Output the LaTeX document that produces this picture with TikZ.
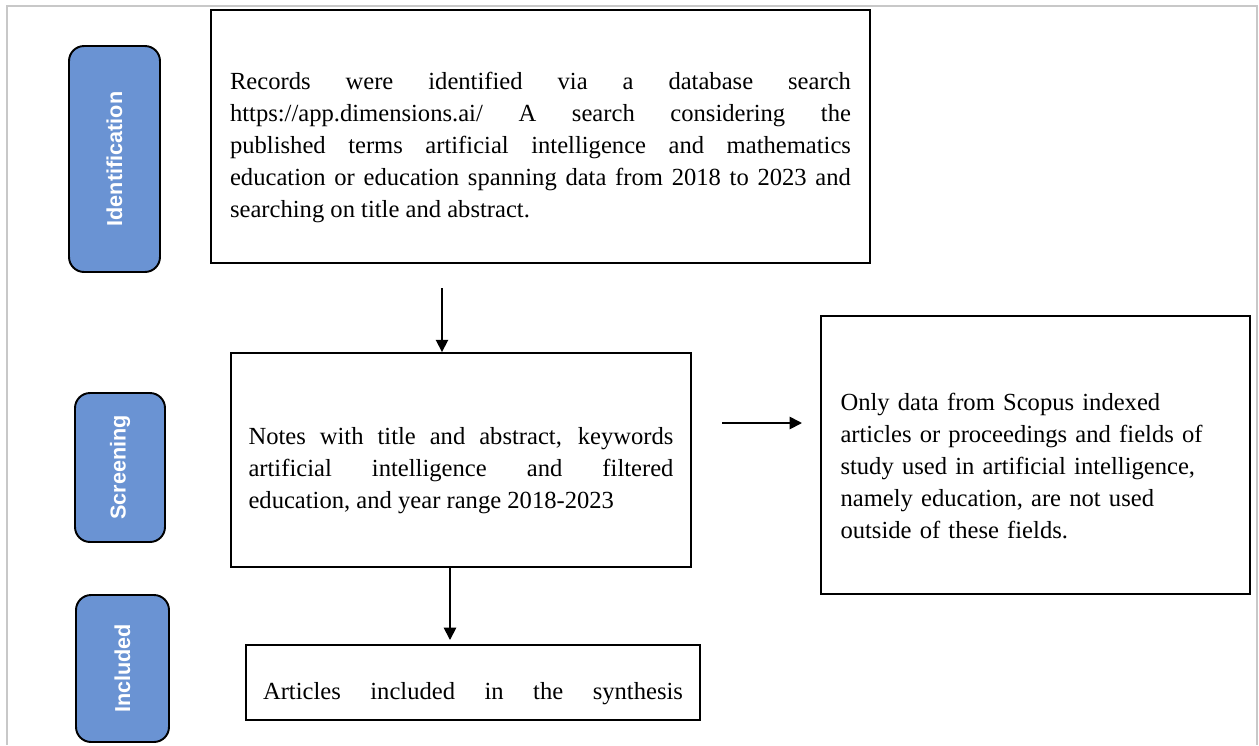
\documentclass[tikz,border=0pt]{standalone}
\usepackage{fontspec}
\setmainfont{Liberation Serif}
\setsansfont{Liberation Sans}
\usetikzlibrary{arrows.meta}
\definecolor{tabblue}{HTML}{6A93D3}
\definecolor{framegrey}{HTML}{C8C8C8}

\begin{document}
\begin{tikzpicture}[x=0.02cm, y=-0.02cm,
        box/.style={draw, line width=1.1pt, inner sep=0pt, font=\fontsize{14}{18.2}\selectfont, text height=0.78cm},
        tab/.style={draw, line width=1.1pt, fill=tabblue, rounded corners=0.3cm, inner sep=0pt,
            text=white, font=\sffamily\bfseries\fontsize{12.3}{14}\selectfont, rotate=90},
        arr/.style={-{Triangle[length=7pt,width=7pt]}, line width=1pt}]
            \useasboundingbox (0,0) rectangle (1259,745);
            \draw[framegrey, line width=1.2pt] (7,745) -- (7,6) -- (1257,6) -- (1257,745);

            \node[tab, minimum width=4.52cm, minimum height=1.82cm] (identification) at (114.5,159) {Identification};
            \node[tab, minimum width=2.98cm, minimum height=1.8cm] (screening) at (120,467.5) {Screening};
            \node[tab, minimum width=2.94cm, minimum height=1.86cm] (included) at (122.5,668.5) {Included};

            \node[box, minimum width=13.18cm, minimum height=5.06cm, text width=12.42cm, align=justify] (records) at (540.5,136.5)
                {Records were identified via a database search\linebreak
                https://app.dimensions.ai/ A search considering the\linebreak
                published terms artificial intelligence and mathematics\linebreak
                education or education spanning data from 2018 to 2023 and\linebreak
                searching on title and abstract.};
            \node[box, minimum width=9.2cm, minimum height=4.28cm, text width=8.5cm, align=justify] (notes) at (461,460)
                {Notes with title and abstract, keywords\linebreak
                artificial intelligence and filtered\linebreak
                education, and year range 2018-2023};
            \node[box, minimum width=8.58cm, minimum height=5.56cm, text width=7.8cm, align=left] (scopus) at (1035.5,455)
                {Only data from Scopus indexed\\
                articles or proceedings and fields of\\
                study used in artificial intelligence,\\
                namely education, are not used\\
                outside of these fields.};
            \node[box, minimum width=9.08cm, minimum height=1.5cm] (articles) at (473,682.5)
                {\makebox[8.4cm][s]{Articles included in the synthesis}};

            \coordinate (a1) at (442,288);
            \coordinate (a2s) at (722,423);
            \coordinate (a2e) at (802,423);
            \coordinate (a3) at (450,640);

            \draw[arr] (a1) -- (a1 |- notes.north);
            \draw[arr] (a2s) -- (a2e);
            \draw[arr] (a3 |- notes.south) -- (a3);
        \end{tikzpicture}
\end{document}
